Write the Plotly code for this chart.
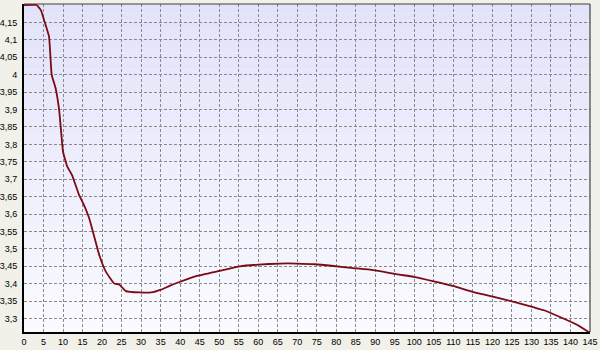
import plotly.graph_objects as go

# Data
x_vals = [0, 3.2, 4.3, 5.1, 6.4, 7.1, 8.1, 9.0, 9.4, 10.0, 11.1, 12.3, 14.1, 15.4,
          16.7, 18.0, 19.3, 21.0, 23.1, 24.4, 26.1, 29.6, 32.6, 35.1, 37.3, 39.8,
          44.1, 50.1, 55.3, 60.0, 65.6, 69.9, 74.6, 79.3, 84.4, 89.5, 95.6, 99.8,
          105.0, 110.1, 115.2, 120.4, 125.5, 130.7, 133.2, 137.6, 141.9, 145]
y_vals = [4.2, 4.2, 4.186, 4.158, 4.11, 4.0, 3.961, 3.899, 3.851, 3.779, 3.736,
          3.712, 3.655, 3.625, 3.588, 3.535, 3.482, 3.434, 3.401, 3.398, 3.379,
          3.375, 3.375, 3.383, 3.394, 3.405, 3.422, 3.437, 3.450, 3.455, 3.458,
          3.458, 3.456, 3.451, 3.445, 3.439, 3.427, 3.420, 3.407, 3.393, 3.376,
          3.362, 3.348, 3.332, 3.324, 3.303, 3.281, 3.259]

x_ticks = list(range(0, 150, 5))
y_ticks = [round(3.3 + 0.05 * i, 2) for i in range(18)]

fig = go.Figure()
fig.add_trace(go.Scatter(x=x_vals, y=y_vals, mode="lines",
                         line=dict(color="#7a0a14", width=1.8, shape="spline", smoothing=0.4),
                         hoverinfo="skip", showlegend=False, cliponaxis=False))

# vertical gradient background (lavender top -> near white bottom)
n = 40
top = (226, 226, 250)
bot = (250, 250, 255)
shapes = []
for i in range(n):
    t = i / (n - 1)
    c = tuple(round(top[k] + (bot[k] - top[k]) * t) for k in range(3))
    shapes.append(dict(type="rect", xref="paper", yref="paper",
                       x0=0, x1=1, y1=1 - i / n, y0=1 - (i + 1) / n,
                       fillcolor="rgb(%d,%d,%d)" % c, line=dict(width=0), layer="below"))
# border: thin top/right
shapes.append(dict(type="line", xref="paper", yref="paper", x0=0, x1=1, y0=1, y1=1,
                   line=dict(color="#404040", width=1)))
shapes.append(dict(type="line", xref="paper", yref="paper", x0=1, x1=1, y0=0, y1=1,
                   line=dict(color="#202020", width=1)))

fig.update_layout(
    width=600, height=350,
    margin=dict(l=24, r=10, t=4, b=18),
    paper_bgcolor="#f1f0e9",
    plot_bgcolor="#f4f4fd",
    separators=",.",
    shapes=shapes,
    font=dict(family="Liberation Sans", size=9, color="#000000"),
    xaxis=dict(range=[0, 145], tickvals=x_ticks, showgrid=True, tickangle=0,
               gridcolor="#8a8a8a", griddash="3px,2px", gridwidth=1,
               showline=True, linecolor="#000000", linewidth=2, automargin=False,
               ticks="", zeroline=False, fixedrange=True, ticklabelstandoff=0),
    yaxis=dict(range=[3.2615, 4.203], tickvals=y_ticks, showgrid=True,
               gridcolor="#8a8a8a", griddash="3px,2px", gridwidth=1,
               showline=True, linecolor="#000000", linewidth=2, automargin=False,
               ticks="", zeroline=False, fixedrange=True, ticklabelstandoff=3),
)

fig.write_html("out.html", config={"displayModeBar": False})
